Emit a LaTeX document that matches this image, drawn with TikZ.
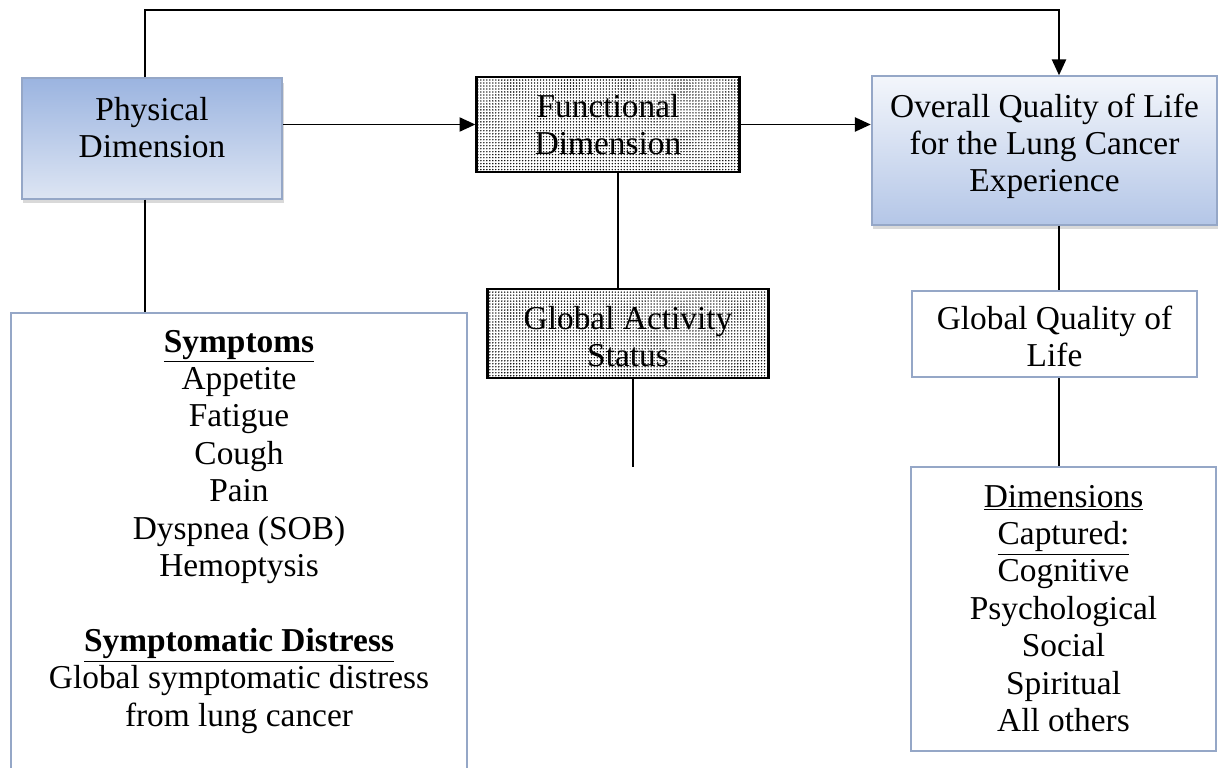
\documentclass[tikz,border=0pt]{standalone}
\usepackage{fontspec}
\setmainfont{Liberation Serif}
\usetikzlibrary{arrows.meta,patterns.meta,shadows}

\definecolor{physTop}{RGB}{155,180,224}
\definecolor{physBot}{RGB}{221,229,243}
\definecolor{qolTop}{RGB}{243,246,251}
\definecolor{qolBot}{RGB}{180,198,231}
\definecolor{frameBlue}{RGB}{149,167,199}

\begin{document}
\begin{tikzpicture}[x=0.02cm,y=-0.02cm,line width=1.1pt,
	box/.style={inner sep=0pt,align=center,text depth=0pt,font=\fontsize{19}{21.3}\selectfont},
	blue box/.style={box,draw=frameBlue,line width=1.1pt,drop shadow={shadow xshift=0.6pt,shadow yshift=-2.5pt,opacity=0.3}},
	plain box/.style={box,draw=frameBlue,line width=1.1pt,fill=white},
	dot box/.style={box,draw=black,line width=1.3pt,pattern={Dots[distance=1.7pt,radius=0.45pt]}},
	tip/.style={-{Triangle[length=9pt,width=8pt]}}]
\useasboundingbox (0,0) rectangle (1219,767);

% boxes
\node[blue box,top color=physTop,bottom color=physBot,minimum width=148.5pt,minimum height=68.6pt,text height=22.1pt] (phys) at (152,138.5) {Physical\\Dimension};
\node[dot box,minimum width=149.7pt,minimum height=53.9pt,text height=34.6pt] (func) at (608,124.5) {Functional\\Dimension};
\node[blue box,top color=qolTop,bottom color=qolBot,minimum width=196.7pt,minimum height=84.5pt,text height=47.1pt] (qol) at (1044.5,150.5) {Overall Quality of Life\\for the Lung Cancer\\Experience};
\node[plain box,minimum width=259.6pt,minimum height=276.6pt,text height=193.9pt] (symp) at (239,556) {\underline{\textbf{Symptoms}}\\Appetite\\Fatigue\\Cough\\Pain\\Dyspnea (SOB)\\Hemoptysis\\[21.3pt]\underline{\textbf{Symptomatic Distress}}\\Global symptomatic distress\\from lung cancer};
\node[dot box,minimum width=159.9pt,minimum height=50.5pt,text height=38pt] (gact) at (628,333.5) {Global Activity\\Status};
\node[plain box,minimum width=162.7pt,minimum height=48.8pt,text height=37.4pt] (gqol) at (1054.5,334) {Global Quality of\\Life};
\node[plain box,minimum width=174pt,minimum height=162.1pt,text height=139.5pt] (dims) at (1063.5,609) {\underline{Dimensions}\\\underline{Captured:}\\Cognitive\\Psychological\\Social\\Spiritual\\All others};

\coordinate (topL) at (145,10);
\coordinate (topR) at (1059,10);
\coordinate (fmid) at (618,0);
\coordinate (gend) at (633,467);

% connectors
\draw[tip] (phys.north -| topL) -- (topL) -- (topR) -- (qol.north -| topR);
\draw[tip] (func.west -| phys.east) -- (func.west);
\draw[tip] (func.east) -- (func.east -| qol.west);
\draw (phys.south -| topL) -- (symp.north -| topL);
\draw (func.south -| fmid) -- (gact.north -| fmid);
\draw (gact.south -| gend) -- (gend);
\draw (qol.south -| topR) -- (gqol.north -| topR);
\draw (gqol.south -| topR) -- (dims.north -| topR);

\end{tikzpicture}
\end{document}
